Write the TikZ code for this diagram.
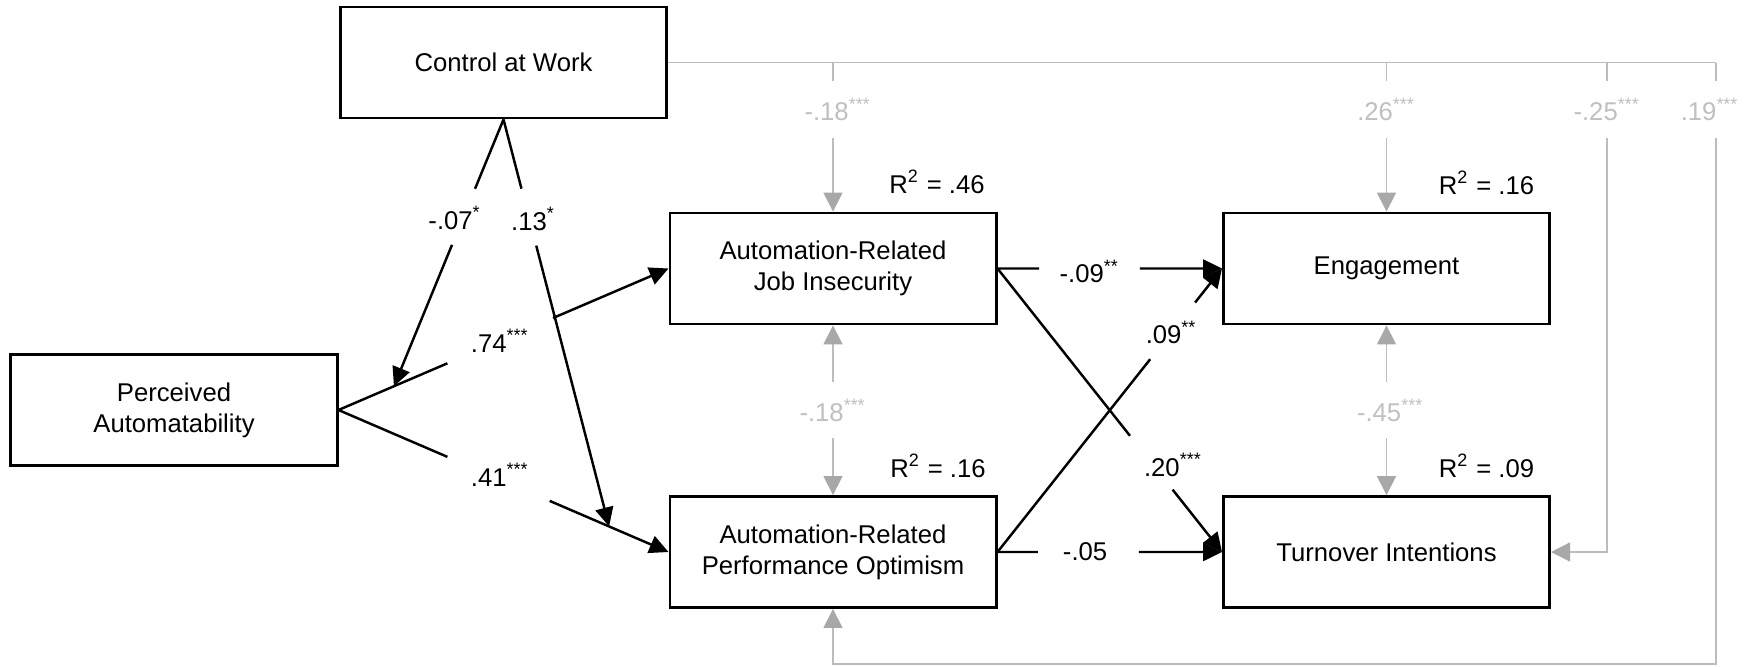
\documentclass[tikz,border=0pt]{standalone}
\usepackage{fontspec}
\setmainfont{Liberation Sans}
\usetikzlibrary{arrows.meta,calc}
\definecolor{gline}{RGB}{188,188,188}
\definecolor{ghead}{RGB}{168,168,168}
\definecolor{gtext}{RGB}{192,192,192}
\newcommand{\sg}[1]{\textsuperscript{#1}}
\begin{document}
\begin{tikzpicture}[x=0.01cm,y=-0.01cm,
  box/.style={draw,line width=0.8pt,minimum width=3.26cm,minimum height=1.11cm,align=center,inner sep=0pt,font=\fontsize{7.3}{8.9}\selectfont},
  lbl/.style={font=\fontsize{7.3}{8.9}\selectfont,inner sep=1pt},
  glbl/.style={lbl,text=gtext,fill=white,minimum height=0.56cm},
  blk/.style={line width=0.7pt},
  blkarr/.style={blk,-{Triangle[length=0.19cm,width=0.18cm]}},
  gry/.style={draw=gline,line width=0.45pt},
  gryarr/.style={gry,-{Triangle[length=0.19cm,width=0.19cm,color=ghead]}},
  gryboth/.style={gry,{Triangle[length=0.19cm,width=0.19cm,color=ghead]}-{Triangle[length=0.19cm,width=0.19cm,color=ghead]}}
]
\useasboundingbox (0,0) rectangle (1749,666);

% boxes
\node[box] (CW) at (503.5,62.5) {Control at Work};
\node[box] (PA) at (174,410) {Perceived\\Automatability};
\node[box] (JI) at (833,268.5) {Automation-Related\\Job Insecurity};
\node[box] (PO) at (833,552) {Automation-Related\\Performance Optimism};
\node[box] (EN) at (1386.5,268.5) {Engagement};
\node[box] (TI) at (1386.5,552) {Turnover Intentions};

% gray control paths
\coordinate (r1) at (1607,552);
\coordinate (r2) at (1716,664);
\coordinate (ly) at (0,109.5);
\draw[gry] (CW.east) -- (CW.east -| r2);
\draw[gryarr] (CW.east -| JI.north) -- (JI.north);
\draw[gryarr] (CW.east -| EN.north) -- (EN.north);
\draw[gryarr] (CW.east -| r1) -- (r1) -- (TI.east);
\draw[gryarr] (CW.east -| r2) -- (r2) -| (PO.south);
\draw[gryboth] (JI.south) -- (PO.north);
\draw[gryboth] (EN.south) -- (TI.north);
\node[glbl] at ($(ly -| JI.north)+(5,0)$) {-.18\sg{***}};
\node[glbl] at (ly -| EN.north) {.26\sg{***}};
\node[glbl] at (ly -| r1) {-.25\sg{***}};
\node[glbl] at ($(ly -| r2)+(-6,0)$) {.19\sg{***}};
\node[glbl] at ($(JI.south)!0.5!(PO.north)$) {-.18\sg{***}};
\node[glbl] at ($(EN.south)!0.5!(TI.north)+(4,0)$) {-.45\sg{***}};

% PA -> JI
\draw[blk] (PA.east) -- ($(PA.east)!0.33!(JI.west)$);
\draw[blkarr] ($(PA.east)!0.65!(JI.west)$) -- (JI.west);
\node[lbl] at ($(PA.east)!0.49!(JI.west)$) {.74\sg{***}};
% PA -> PO
\draw[blk] (PA.east) -- ($(PA.east)!0.33!(PO.west)$);
\draw[blkarr] ($(PA.east)!0.64!(PO.west)$) -- (PO.west);
\node[lbl] at ($(PA.east)!0.49!(PO.west)+(0,-5)$) {.41\sg{***}};

% moderation
\coordinate (m1) at ($(PA.east)!0.168!(JI.west)$);
\coordinate (m2) at ($(PA.east)!0.82!(PO.west)$);
\draw[blk] (CW.south) -- ($(CW.south)!0.26!(m1)$);
\draw[blkarr] ($(CW.south)!0.47!(m1)$) -- (m1);
\node[lbl] at ($(CW.south)!0.37!(m1)+(-8,0)$) {-.07\sg{*}};
\draw[blk] (CW.south) -- ($(CW.south)!0.17!(m2)$);
\draw[blkarr] ($(CW.south)!0.31!(m2)$) -- (m2);
\node[lbl] at ($(CW.south)!0.245!(m2)+(4,0)$) {.13\sg{*}};

% JI -> EN
\draw[blk] (JI.east) -- ($(JI.east)!0.185!(EN.west)$);
\draw[blkarr] ($(JI.east)!0.634!(EN.west)$) -- (EN.west);
\node[lbl] at ($(JI.east)!0.41!(EN.west)+(0,3)$) {-.09\sg{**}};
% JI -> TI
\draw[blk] (JI.east) -- ($(JI.east)!0.59!(TI.west)$);
\draw[blkarr] ($(JI.east)!0.78!(TI.west)$) -- (TI.west);
\node[lbl] at ($(JI.east)!0.685!(TI.west)+(22,2)$) {.20\sg{***}};
% PO -> EN
\draw[blk] (PO.east) -- ($(PO.east)!0.68!(EN.west)$);
\draw[blkarr] ($(PO.east)!0.88!(EN.west)$) -- (EN.west);
\node[lbl] at ($(PO.east)!0.775!(EN.west)$) {.09\sg{**}};
% PO -> TI
\draw[blk] (PO.east) -- ($(PO.east)!0.18!(TI.west)$);
\draw[blkarr] ($(PO.east)!0.63!(TI.west)$) -- (TI.west);
\node[lbl] at ($(PO.east)!0.39!(TI.west)$) {-.05};

% R squared
\node[lbl] at ($(JI.north)+(104,-30)$) {R\textsuperscript{2} = .46};
\node[lbl] at ($(PO.north)+(105,-29)$) {R\textsuperscript{2} = .16};
\node[lbl] at ($(EN.north)+(100,-29)$) {R\textsuperscript{2} = .16};
\node[lbl] at ($(TI.north)+(100,-29)$) {R\textsuperscript{2} = .09};
\end{tikzpicture}
\end{document}
